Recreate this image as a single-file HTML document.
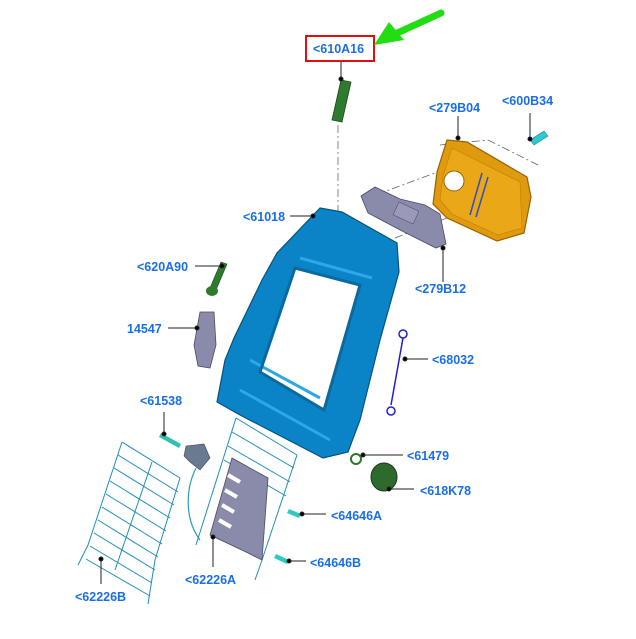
<!DOCTYPE html>
<html><head><meta charset="utf-8"><style>
html,body{margin:0;padding:0;background:#fff;width:636px;height:639px;overflow:hidden}
svg text{font-family:"Liberation Sans",Arial,sans-serif;font-weight:bold;font-size:12.5px;fill:#1a6ee8}
</style></head><body>
<svg width="636" height="639" viewBox="0 0 636 639" xmlns="http://www.w3.org/2000/svg">
<g stroke="#666" stroke-width="0.8" fill="none" stroke-dasharray="8,3,2,3">
<line x1="338" y1="125" x2="338" y2="212"/>
<line x1="362" y1="200" x2="470" y2="160"/>
<line x1="395" y1="238" x2="520" y2="190"/>
<line x1="440" y1="145" x2="488" y2="140"/>
<line x1="488" y1="140" x2="540" y2="166"/>
</g>
<path d="M447,140 L467,142 L527,177 L531,197 L524,233 L497,241 L447,218 L433,204 L437,172 Z" fill="#e09a10" stroke="#9a6200" stroke-width="1.2"/>
<path d="M452,148 L520,182 L522,228 L498,235 L452,214 L440,200 L443,176Z" fill="#eaa818" stroke="#c08000" stroke-width="0.6"/>
<circle cx="454" cy="181" r="10" fill="#fff" stroke="#9a6200"/>
<line x1="482" y1="173" x2="470" y2="215" stroke="#3050c0" stroke-width="1.5"/>
<line x1="488" y1="177" x2="476" y2="217" stroke="#3050c0" stroke-width="1.5"/>
<path d="M530,140 L544,131 L548,136 L534,145Z" fill="#30c8d0" stroke="#1a8a90" stroke-width="0.6"/>
<path d="M361,196 L375,187 L400,199 L425,205 L440,214 L446,244 L436,248 L404,232 L368,213Z" fill="#8a8aaa" stroke="#4a4a6a" stroke-width="0.8"/>
<rect x="395" y="206" width="22" height="14" fill="#9a9ab8" stroke="#4a4a6a" stroke-width="0.5" transform="rotate(25 406 213)"/>
<path fill-rule="evenodd" d="M320,208 L342,212 L397,243 L399,272 L380,340 L360,420 L348,452 L323,458 L240,415 L217,402 L225,360 L234,338 L262,280 L277,253 Z
M295,268 L360,285 L324,410 L260,372 Z" fill="#0a84c6" stroke="#06527e" stroke-width="1.2"/>
<path d="M300,258 L372,278 M250,360 L320,398 M240,390 L330,440" stroke="#2aa8e8" stroke-width="3" fill="none"/>
<path d="M295,268 L360,285 L324,410 L260,372 Z" fill="none" stroke="#0a6aa0" stroke-width="3"/>
<path d="M341,80 L351,82 L342,122 L332,120 Z" fill="#2e7a2e" stroke="#1a4a1a" stroke-width="0.8"/>
<path d="M221,262 L227,264 L216,290 L210,288Z" fill="#2e7a2e" stroke="#1a4a1a" stroke-width="0.6"/>
<ellipse cx="212" cy="291" rx="6" ry="5" fill="#2e7a2e"/>
<path d="M200,312 L214,312 L216,345 L210,368 L198,366 L194,345 Z" fill="#8a8aaa" stroke="#4a4a6a" stroke-width="0.8"/>
<g stroke="#2020d0" stroke-width="1.5" fill="none">
<circle cx="403" cy="334" r="4"/><line x1="403" y1="338" x2="391" y2="405"/><circle cx="391" cy="411" r="4"/>
</g>
<path d="M161,433 L181,444 L179,448 L159,437Z" fill="#30c0b0"/>
<path d="M186,446 L204,444 L210,458 L200,470 L190,462 L184,456Z" fill="#6a7a90" stroke="#3a4a5a" stroke-width="0.6"/>
<path d="M196,468 C185,490 185,520 200,540" stroke="#2a9ab0" stroke-width="1.2" fill="none"/>
<g stroke="#1f8fb8" stroke-width="1" fill="none">
<path d="M122,442 L88,545 L78,565 M180,478 L155,560 L148,604 M152,462 L115,570"/>
<path d="M122,442 L180,478"/>
<path d="M118,455 L178,492 M114,468 L174,505 M110,481 L170,518 M106,494 L166,531 M102,507 L162,544 M98,520 L158,557 M94,533 L155,570 M90,546 L152,583 M86,559 L150,596"/>
</g>
<g stroke="#1f8fb8" stroke-width="1" fill="none">
<path d="M236,418 L196,545 M297,455 L262,560 L255,580 M236,418 L297,455"/>
<path d="M232,432 L294,468 M228,446 L290,482 M224,460 L286,496"/>
</g>
<path d="M232,458 L268,478 L262,560 L246,552 L210,535 Z" fill="#8a8aaa" stroke="#4a4a6a" stroke-width="0.8"/>
<g stroke="#fff" stroke-width="4"><line x1="228" y1="475" x2="240" y2="482"/><line x1="225" y1="490" x2="237" y2="497"/><line x1="222" y1="505" x2="234" y2="512"/><line x1="219" y1="520" x2="231" y2="527"/></g>
<circle cx="356" cy="459" r="5" fill="none" stroke="#2a7a2a" stroke-width="2"/>
<ellipse cx="384" cy="477" rx="13" ry="14" fill="#2e6a2e" stroke="#1a3a1a"/>
<path d="M289,509 L301,514 L299,518 L287,513Z" fill="#30c8c0"/>
<path d="M276,554 L289,560 L287,564 L274,558Z" fill="#30c8c0"/>
<g stroke="#222" stroke-width="1" fill="#000">
<line x1="341" y1="61" x2="341" y2="78"/><circle cx="341" cy="79" r="2"/>
<line x1="458" y1="116" x2="458" y2="137"/><circle cx="458" cy="138" r="2"/>
<line x1="530" y1="113" x2="530" y2="138"/><circle cx="530" cy="139" r="2"/>
<line x1="290" y1="216" x2="312" y2="216"/><circle cx="313" cy="216" r="2"/>
<line x1="195" y1="266" x2="221" y2="266"/><circle cx="222" cy="266" r="2"/>
<line x1="168" y1="328" x2="196" y2="328"/><circle cx="197" cy="328" r="2"/>
<line x1="405" y1="359" x2="428" y2="359"/><circle cx="405" cy="359" r="2"/>
<line x1="443" y1="282" x2="443" y2="249"/><circle cx="443" cy="248" r="2"/>
<line x1="164" y1="412" x2="164" y2="433"/><circle cx="164" cy="434" r="2"/>
<line x1="363" y1="455" x2="403" y2="455"/><circle cx="363" cy="455" r="2"/>
<line x1="389" y1="489" x2="414" y2="489"/><circle cx="389" cy="489" r="2"/>
<line x1="302" y1="514" x2="326" y2="514"/><circle cx="302" cy="514" r="2"/>
<line x1="289" y1="561" x2="306" y2="561"/><circle cx="289" cy="561" r="2"/>
<line x1="213" y1="537" x2="213" y2="567"/><circle cx="213" cy="537" r="2"/>
<line x1="101" y1="559" x2="101" y2="584"/><circle cx="101" cy="559" r="2"/>
</g>
<rect x="306" y="36" width="68" height="25" fill="none" stroke="#e01010" stroke-width="2"/>
<text x="313" y="53">&lt;610A16</text>
<text x="429" y="112">&lt;279B04</text>
<text x="502" y="105">&lt;600B34</text>
<text x="243" y="221">&lt;61018</text>
<text x="137" y="271">&lt;620A90</text>
<text x="127" y="333">14547</text>
<text x="432" y="364">&lt;68032</text>
<text x="415" y="293">&lt;279B12</text>
<text x="140" y="405">&lt;61538</text>
<text x="407" y="460">&lt;61479</text>
<text x="420" y="495">&lt;618K78</text>
<text x="331" y="520">&lt;64646A</text>
<text x="310" y="567">&lt;64646B</text>
<text x="185" y="584">&lt;62226A</text>
<text x="75" y="601">&lt;62226B</text>
<line x1="441" y1="13" x2="395" y2="34" stroke="#22dd11" stroke-width="7" stroke-linecap="round"/>
<path d="M374,45 L389,22 L404,40 Z" fill="#22dd11"/>
</svg>
</body></html>
